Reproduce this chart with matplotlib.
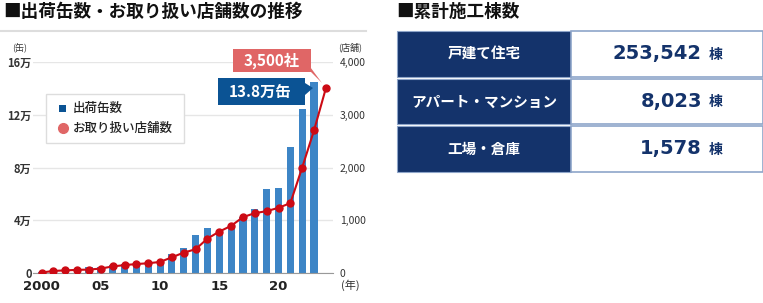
import numpy as np
import matplotlib.pyplot as plt
from matplotlib.patches import Rectangle, Polygon

plt.rcParams['font.family'] = ['Noto Sans CJK JP', 'DejaVu Sans']

# ---- data ----
bar_years = np.arange(2000, 2024)
cans = [0.10, 0.15, 0.20, 0.30, 0.45, 0.50, 0.63, 0.68, 0.75, 0.83, 0.96,
        1.46, 1.89, 2.87, 3.42, 3.22, 3.40, 4.23, 4.85, 6.34, 6.44,
        9.56, 12.45, 14.5]
line_years = np.arange(2000, 2025)
stores = [15, 45, 55, 65, 70, 90, 130, 155, 175, 190, 215,
          303, 391, 455, 656, 789, 897, 1062, 1137, 1175, 1238, 1327,
          2000, 2703, 3500]

xtick_years = [2000, 2005, 2010, 2015, 2020]
xtick_labels = ["2000", "05", "10", "15", "20"]
left_ticks = [0, 4, 8, 12, 16]
left_labels = ["0", "4万", "8万", "12万", "16万"]
right_ticks = [0, 1000, 2000, 3000, 4000]

table_labels = ["戸建て住宅", "アパート・マンション", "工場・倉庫"]
table_values = ["253,542", "8,023", "1,578"]

W, H = 763, 303
BAR_C = "#3d85c6"
LINE_C = "#cc0a14"
PINK = "#e06666"
BLUE_BOX = "#0b5394"
NAVY = "#14336b"


def fx(x):
    return x / W


def fy(y):
    return 1 - y / H


fig = plt.figure(figsize=(W / 100, H / 100), dpi=100)

# ---- chart ----
ax = fig.add_axes([fx(33), fy(273.3), fx(333) - fx(33), fy(61.7) - fy(273.3)])
ax.bar(bar_years, cans, width=0.6, color=BAR_C, zorder=2)
ax.set_xlim(1999.27, 2024.6)
ax.set_ylim(0, 16)
ax.set_yticks(left_ticks)
ax.set_yticklabels(left_labels, fontsize=8, fontweight="bold", color="#333333")
ax.set_xticks(xtick_years)
ax.set_xticklabels(xtick_labels, fontsize=9.5, fontweight="bold",
                   family="DejaVu Sans", color="#222222")
ax.tick_params(length=0, pad=1)
ax.tick_params(axis="x", pad=5)
ax.grid(axis="y", color="#e6e6e6", lw=1, zorder=0)
for s in ["top", "right", "left"]:
    ax.spines[s].set_visible(False)
ax.spines["bottom"].set_color("#999999")
ax.set_axisbelow(True)

ax2 = ax.twinx()
ax2.plot(line_years, stores, color=LINE_C, lw=1.5, marker="o", ms=5, zorder=3)
ax2.set_ylim(0, 4000)
ax2.set_yticks(right_ticks)
ax2.set_yticklabels([f"{v:,}" for v in right_ticks], fontsize=7.5, color="#333333")
ax2.tick_params(length=0, pad=5)
for s in ax2.spines.values():
    s.set_visible(False)

fig.text(fx(20), fy(48), "(缶)", fontsize=6.5, ha="center", va="center", color="#333333")
fig.text(fx(350), fy(47), "(店舗)", fontsize=6.5, ha="center", va="center", color="#333333")
fig.text(fx(350), fy(285), "(年)", fontsize=8, ha="center", va="center", color="#333333")

# legend box
fig.add_artist(Rectangle((fx(46), fy(143)), fx(184) - fx(46), fy(94) - fy(143),
                         transform=fig.transFigure, facecolor="white",
                         edgecolor="#dddddd", lw=1, zorder=5))
fig.add_artist(Rectangle((fx(59), fy(111.5)), fx(7), fy(0) - fy(7),
                         transform=fig.transFigure, facecolor=BLUE_BOX,
                         edgecolor="none", zorder=6))
fig.text(fx(73), fy(108), "出荷缶数", fontsize=9, fontweight="medium",
         va="center", color="#222222", zorder=6)
fig.lines.append(plt.Line2D([fx(63)], [fy(128)], marker="o", ms=7, color=PINK,
                            transform=fig.transFigure, zorder=6))
fig.text(fx(73), fy(128), "お取り扱い店舗数", fontsize=9, fontweight="medium",
         va="center", color="#222222", zorder=6)

# callouts
fig.add_artist(Polygon([(fx(305), fy(60)), (fx(311), fy(72)), (fx(322), fy(83))],
                       closed=True, transform=fig.transFigure, facecolor=PINK,
                       edgecolor="none", zorder=6))
fig.add_artist(Rectangle((fx(233), fy(72)), fx(311) - fx(233), fy(49) - fy(72),
                         transform=fig.transFigure, facecolor=PINK,
                         edgecolor="none", zorder=6))
fig.text(fx(272), fy(61), "3,500社", fontsize=11, fontweight="bold", color="white",
         ha="center", va="center", zorder=7)
fig.add_artist(Polygon([(fx(305), fy(83)), (fx(305), fy(95)), (fx(313), fy(88))],
                       closed=True, transform=fig.transFigure, facecolor=BLUE_BOX,
                       edgecolor="none", zorder=6))
fig.add_artist(Rectangle((fx(218), fy(105)), fx(305) - fx(218), fy(78) - fy(105),
                         transform=fig.transFigure, facecolor=BLUE_BOX,
                         edgecolor="none", zorder=6))
fig.text(fx(260), fy(91.5), "13.8万缶", fontsize=11, fontweight="bold", color="white",
         ha="center", va="center", zorder=7)

# titles
fig.text(fx(3), fy(12), "■出荷缶数・お取り扱い店舗数の推移", fontsize=12.7,
         fontweight="bold", va="center", color="#111111")
fig.add_artist(plt.Line2D([0, fx(366)], [fy(31), fy(31)], color="#dddddd", lw=1.5,
                          transform=fig.transFigure))
fig.text(fx(396), fy(12), "■累計施工棟数", fontsize=12.7,
         fontweight="bold", va="center", color="#111111")

# ---- table ----
rows = [(30.7, 77.3), (78.7, 124.2), (125.6, 171.7)]
for (top, bot), lab, val in zip(rows, table_labels, table_values):
    fig.add_artist(Rectangle((fx(397), fy(bot)), fx(571) - fx(397), fy(top) - fy(bot),
                             transform=fig.transFigure, facecolor=NAVY,
                             edgecolor="#8ea5c9", lw=0.8))
    fig.add_artist(Rectangle((fx(571), fy(bot)), fx(762.5) - fx(571), fy(top) - fy(bot),
                             transform=fig.transFigure, facecolor="white",
                             edgecolor="#8ea5c9", lw=1.2))
    yc = (top + bot) / 2
    fig.text(fx(484), fy(yc), lab, fontsize=10.5, fontweight="bold", color="white",
             ha="center", va="center")
    fig.text(fx(702), fy(yc), val, fontsize=14, fontweight="bold", color=NAVY,
             family="DejaVu Sans", ha="right", va="center")
    fig.text(fx(709), fy(yc + 1), "棟", fontsize=10, fontweight="bold", color=NAVY,
             ha="left", va="center")

fig.savefig("out.png", dpi=100)
